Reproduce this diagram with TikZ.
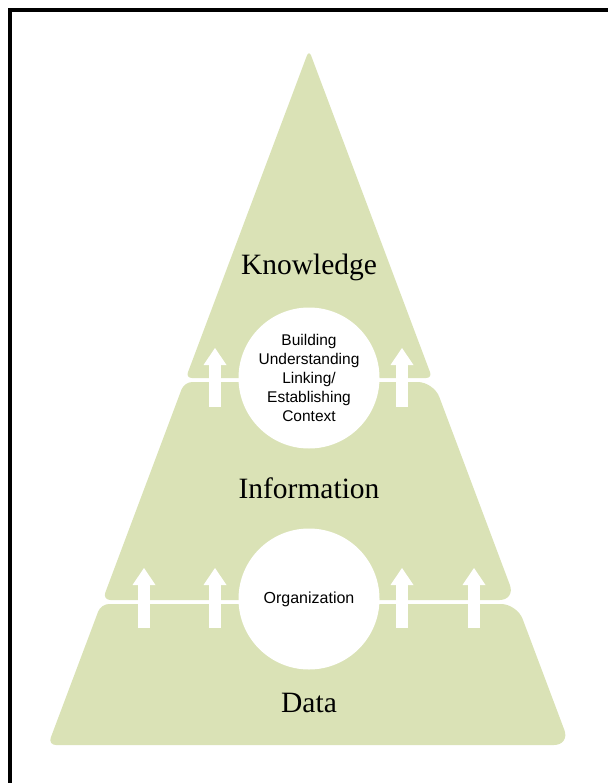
\documentclass[tikz,border=0pt]{standalone}
\usepackage{fontspec}
\setmainfont{Liberation Serif}
\setsansfont{Liberation Sans}
\usetikzlibrary{arrows.meta}
\definecolor{sage}{RGB}{218,226,182}

\begin{document}
\begin{tikzpicture}[x=1pt, y=-1pt]
\tikzstyle{band} = [ fill=sage ]
\tikzstyle{level} = [ anchor=base, font=\fontsize{29.5}{31}\selectfont ]
\tikzstyle{hub} = [ circle, fill=white, minimum size=141pt, inner sep=0pt, align=center, font=\sffamily\fontsize{15.5}{19}\selectfont ]
\tikzstyle{lift} = [ draw=white, line width=12pt, -{Triangle[width=23pt, length=17pt, line width=0pt]} ]
\useasboundingbox (0,0) rectangle (608,783);
% frame
\draw [line width=3.3pt] (10,783) -- (10,10) -- (608,10) ;
% bands of the pyramid
\path [band] (309,378) [rounded corners=6pt] -- (185.8,378) -- (309,50) -- (432.2,378) -- cycle ;
\path [band] (309,600) [rounded corners=8pt] -- (102.5,600) -- (184.3,382) [rounded corners=16pt] -- (433.7,382) -- (515.5,600) [rounded corners=8pt] -- cycle ;
\path [band] (309,745) [rounded corners=8pt] -- (48,745) -- (101,604) [rounded corners=16pt] -- (517,604) -- (570,745) [rounded corners=8pt] -- cycle ;
% arrows
\draw [lift] (215,407) -- (215,348) ;
\draw [lift] (402,407) -- (402,348) ;
\draw [lift] (144,628) -- (144,568) ;
\draw [lift] (215,628) -- (215,568) ;
\draw [lift] (402,628) -- (402,568) ;
\draw [lift] (474,628) -- (474,568) ;
% place nodes
\node [level] (knowledge) at (309,274) {Knowledge} ;
\node [level] (information) at (309,498) {Information} ;
\node [level] (data) at (309,712) {Data} ;
\node [hub] (context) at (309,378) {Building\\Understanding\\Linking/\\Establishing\\Context} ;
\node [hub, font=\sffamily\fontsize{16}{19}\selectfont] (organization) at (309,599) {Organization} ;
\end{tikzpicture}
\end{document}
